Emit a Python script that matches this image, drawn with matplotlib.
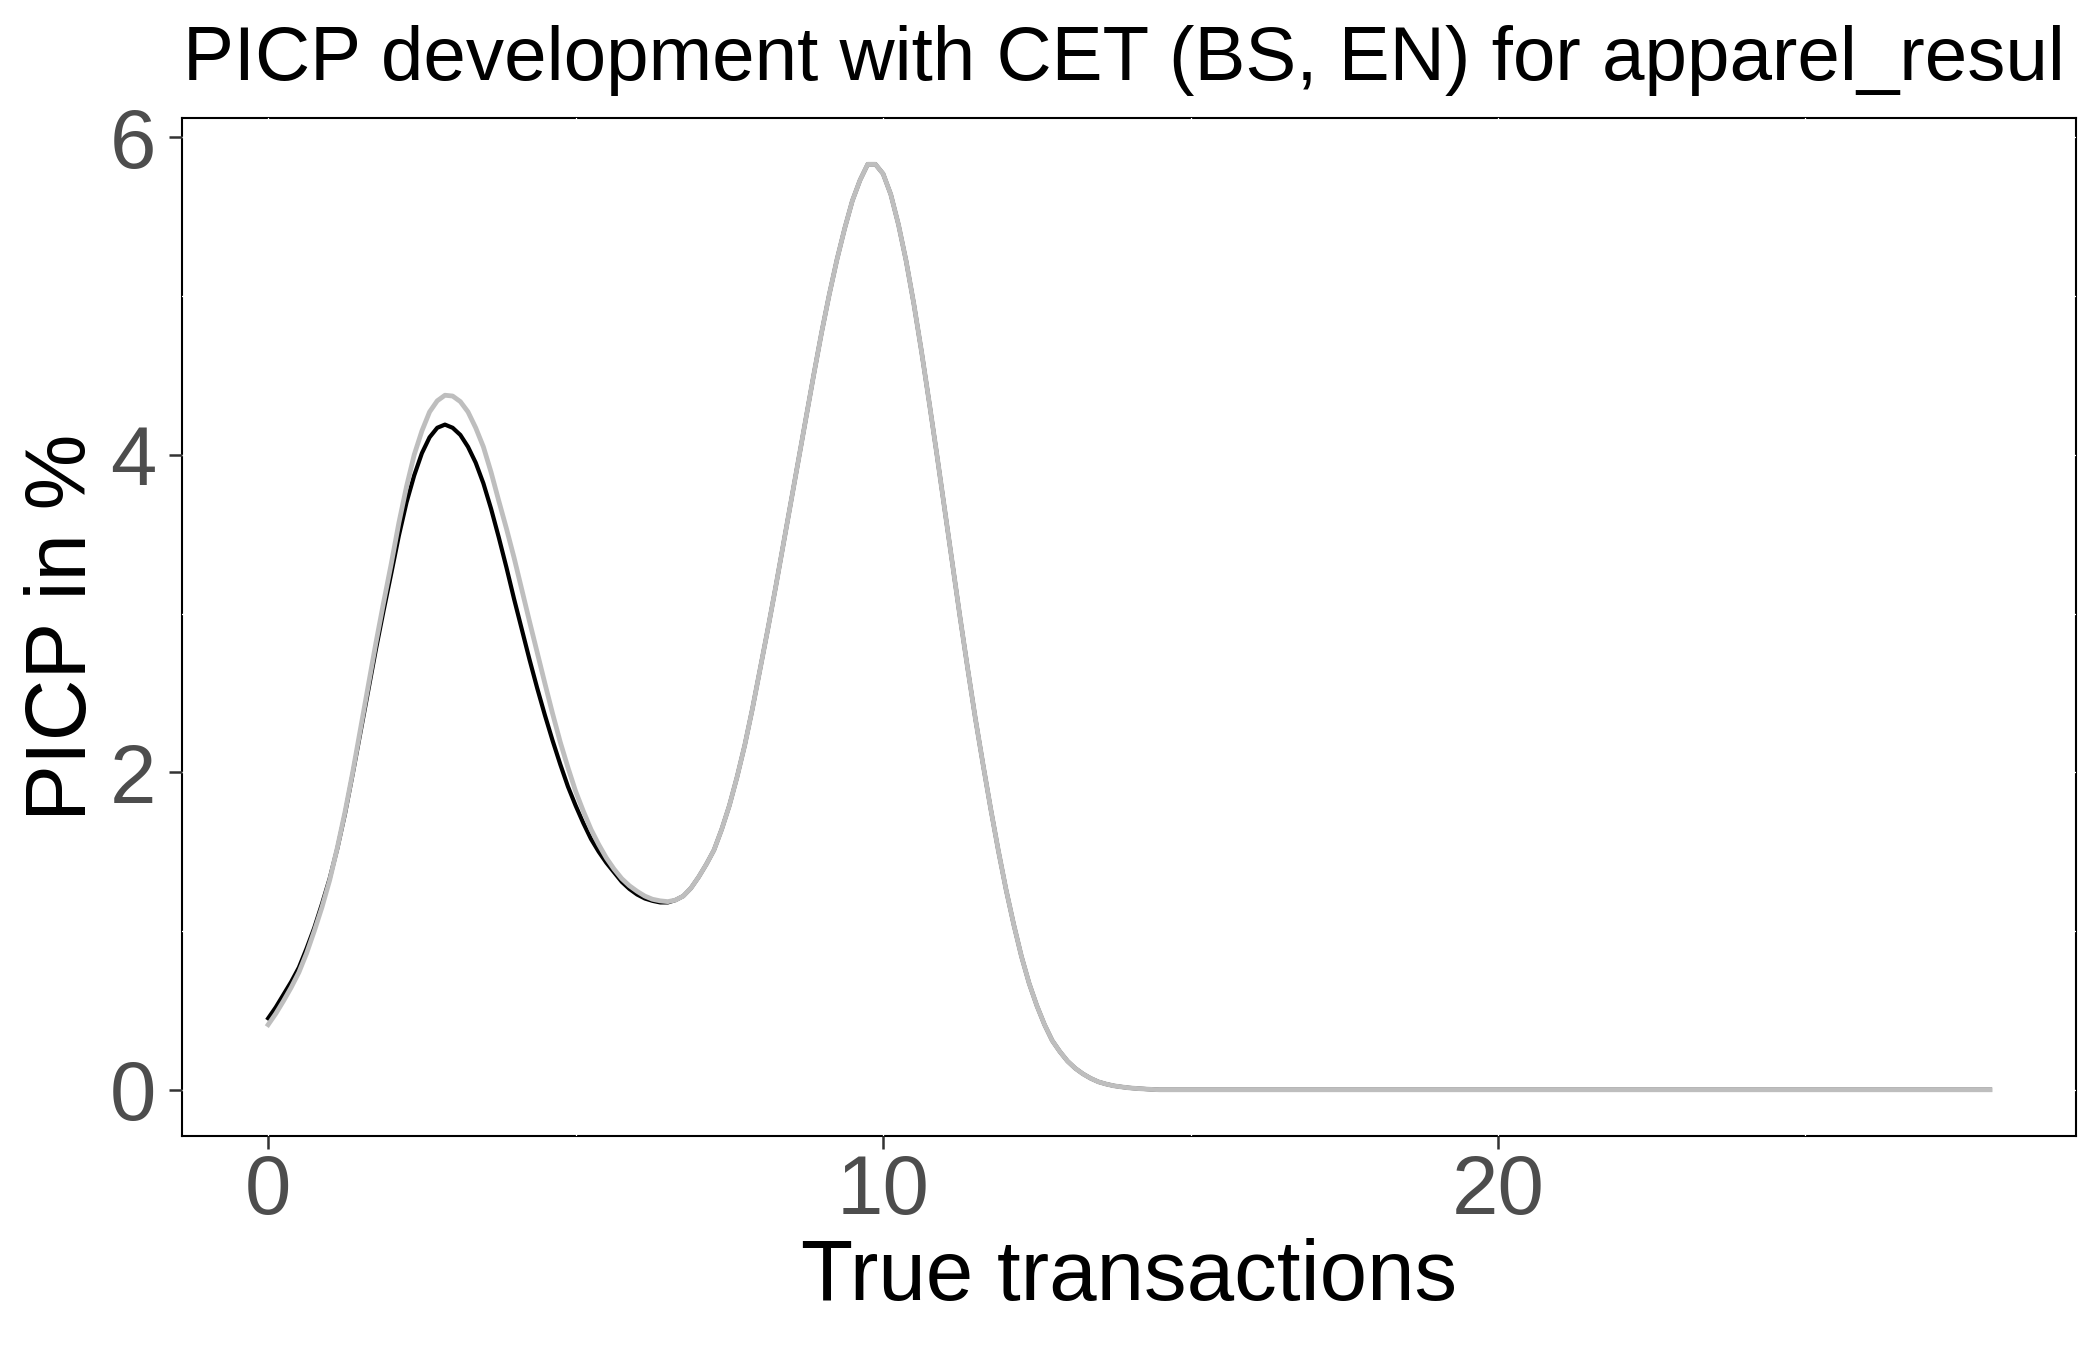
import matplotlib
matplotlib.use("Agg")
import matplotlib.pyplot as plt

plt.rcParams["font.family"] = ["Liberation Sans", "DejaVu Sans"]

# --- Data (PICP in %, per true transaction count) ---
x_vals = [0.0, 0.125, 0.25, 0.375, 0.5, 0.625, 0.75, 0.875,
          1.0, 1.125, 1.25, 1.375, 1.5, 1.625, 1.75, 1.875,
          2.0, 2.125, 2.25, 2.375, 2.5, 2.625, 2.75, 2.875,
          3.0, 3.125, 3.25, 3.375, 3.5, 3.625, 3.75, 3.875,
          4.0, 4.125, 4.25, 4.375, 4.5, 4.625, 4.75, 4.875,
          5.0, 5.125, 5.25, 5.375, 5.5, 5.625, 5.75, 5.875,
          6.0, 6.125, 6.25, 6.375, 6.5, 6.625, 6.75, 6.875,
          7.0, 7.125, 7.25, 7.375, 7.5, 7.625, 7.75, 7.875,
          8.0, 8.125, 8.25, 8.375, 8.5, 8.625, 8.75, 8.875,
          9.0, 9.125, 9.25, 9.375, 9.5, 9.625, 9.75, 9.875,
          10.0, 10.125, 10.25, 10.375, 10.5, 10.625, 10.75, 10.875,
          11.0, 11.125, 11.25, 11.375, 11.5, 11.625, 11.75, 11.875,
          12.0, 12.125, 12.25, 12.375, 12.5, 12.625, 12.75, 12.875,
          13.0, 13.125, 13.25, 13.375, 13.5, 13.625, 13.75, 13.875,
          14.0, 14.125, 14.25, 14.375, 14.5,
          15, 16, 18, 20, 22, 24, 26, 28]

picp_black = [0.45, 0.52, 0.60, 0.68, 0.77, 0.89, 1.02, 1.17,
              1.33, 1.52, 1.74, 1.99, 2.25, 2.51, 2.77, 3.015,
              3.25, 3.49, 3.70, 3.87, 4.01, 4.11, 4.17, 4.19,
              4.17, 4.125, 4.05, 3.95, 3.82, 3.66, 3.48, 3.29,
              3.09, 2.90, 2.71, 2.53, 2.36, 2.20, 2.05, 1.91,
              1.79, 1.68, 1.58, 1.50, 1.43, 1.37, 1.31, 1.265,
              1.23, 1.205, 1.19, 1.18, 1.18, 1.195, 1.22, 1.27,
              1.34, 1.42, 1.51, 1.64, 1.79, 1.97, 2.17, 2.40,
              2.65, 2.90, 3.16, 3.43, 3.70, 3.97, 4.24, 4.51,
              4.77, 5.01, 5.23, 5.425, 5.60, 5.73, 5.83, 5.83,
              5.77, 5.64, 5.45, 5.22, 4.95, 4.65, 4.33, 4.00,
              3.66, 3.32, 2.98, 2.655, 2.34, 2.05, 1.77, 1.505,
              1.26, 1.04, 0.84, 0.67, 0.53, 0.41, 0.31, 0.24,
              0.18, 0.135, 0.10, 0.072, 0.05, 0.036, 0.025, 0.018,
              0.012, 0.008, 0.005, 0.002, 0.0,
              0.0, 0.0, 0.0, 0.0, 0.0, 0.0, 0.0, 0.0]

picp_gray = [0.41, 0.48, 0.56, 0.645, 0.74, 0.86, 1.00, 1.15,
             1.32, 1.525, 1.75, 2.00, 2.27, 2.54, 2.81, 3.065,
             3.31, 3.57, 3.80, 4.00, 4.15, 4.27, 4.34, 4.375,
             4.37, 4.335, 4.27, 4.17, 4.05, 3.89, 3.71, 3.535,
             3.35, 3.15, 2.95, 2.755, 2.56, 2.37, 2.19, 2.03,
             1.88, 1.755, 1.64, 1.545, 1.46, 1.39, 1.33, 1.285,
             1.25, 1.22, 1.20, 1.19, 1.185, 1.195, 1.22, 1.27,
             1.34, 1.42, 1.51, 1.64, 1.79, 1.97, 2.17, 2.40,
             2.65, 2.90, 3.16, 3.43, 3.70, 3.97, 4.24, 4.51,
             4.77, 5.01, 5.23, 5.425, 5.60, 5.73, 5.83, 5.83,
             5.77, 5.64, 5.45, 5.22, 4.95, 4.65, 4.33, 4.00,
             3.66, 3.32, 2.98, 2.655, 2.34, 2.05, 1.77, 1.505,
             1.26, 1.04, 0.84, 0.67, 0.53, 0.41, 0.31, 0.24,
             0.18, 0.135, 0.10, 0.072, 0.05, 0.036, 0.025, 0.018,
             0.012, 0.008, 0.005, 0.002, 0.0,
             0.0, 0.0, 0.0, 0.0, 0.0, 0.0, 0.0, 0.0]

x_ticks = [0, 10, 20]
y_ticks = [0, 2, 4, 6]
title = "PICP development with CET (BS, EN) for apparel_resul"

# --- Figure ---
fig = plt.figure(figsize=(14, 9), dpi=150)
ax = fig.add_axes([0.0867, 0.1585, 0.9019, 0.7541])

ax.plot(x_vals, picp_black, color="black", lw=2.0, zorder=3)
ax.plot(x_vals, picp_gray, color="#BEBEBE", lw=2.3, zorder=3.1)

top = max(picp_gray)
ax.set_xlim(-1.4, 29.4)
ax.set_ylim(-0.05 * top, top * 1.05)

ax.set_xticks(x_ticks)
ax.set_yticks(y_ticks)
ax.set_xticks([5, 15, 25], minor=True)
ax.set_yticks([1, 3, 5], minor=True)

# white grid: only shows where it crosses the panel border
ax.set_axisbelow(False)
ax.grid(True, which="both", color="white", lw=0.6)

for sp in ax.spines.values():
    sp.set_color("black")
    sp.set_linewidth(1.0)

ax.tick_params(axis="both", which="major", length=6.3, width=1.2,
               color="#333333", labelsize=40, labelcolor="#4D4D4D")
ax.tick_params(axis="x", which="major", pad=2)
ax.tick_params(axis="y", which="major", pad=6)
ax.tick_params(axis="both", which="minor", length=0)

ax.set_xlabel("True transactions", fontsize=41, color="black", labelpad=3)
ax.set_ylabel("PICP in %", fontsize=41, color="black", labelpad=3)

fig.text(183 / 2100, 1 - 80 / 1350, title, fontsize=36.7, color="black",
         ha="left", va="baseline")

fig.savefig("out.png", dpi=150, facecolor="white")
